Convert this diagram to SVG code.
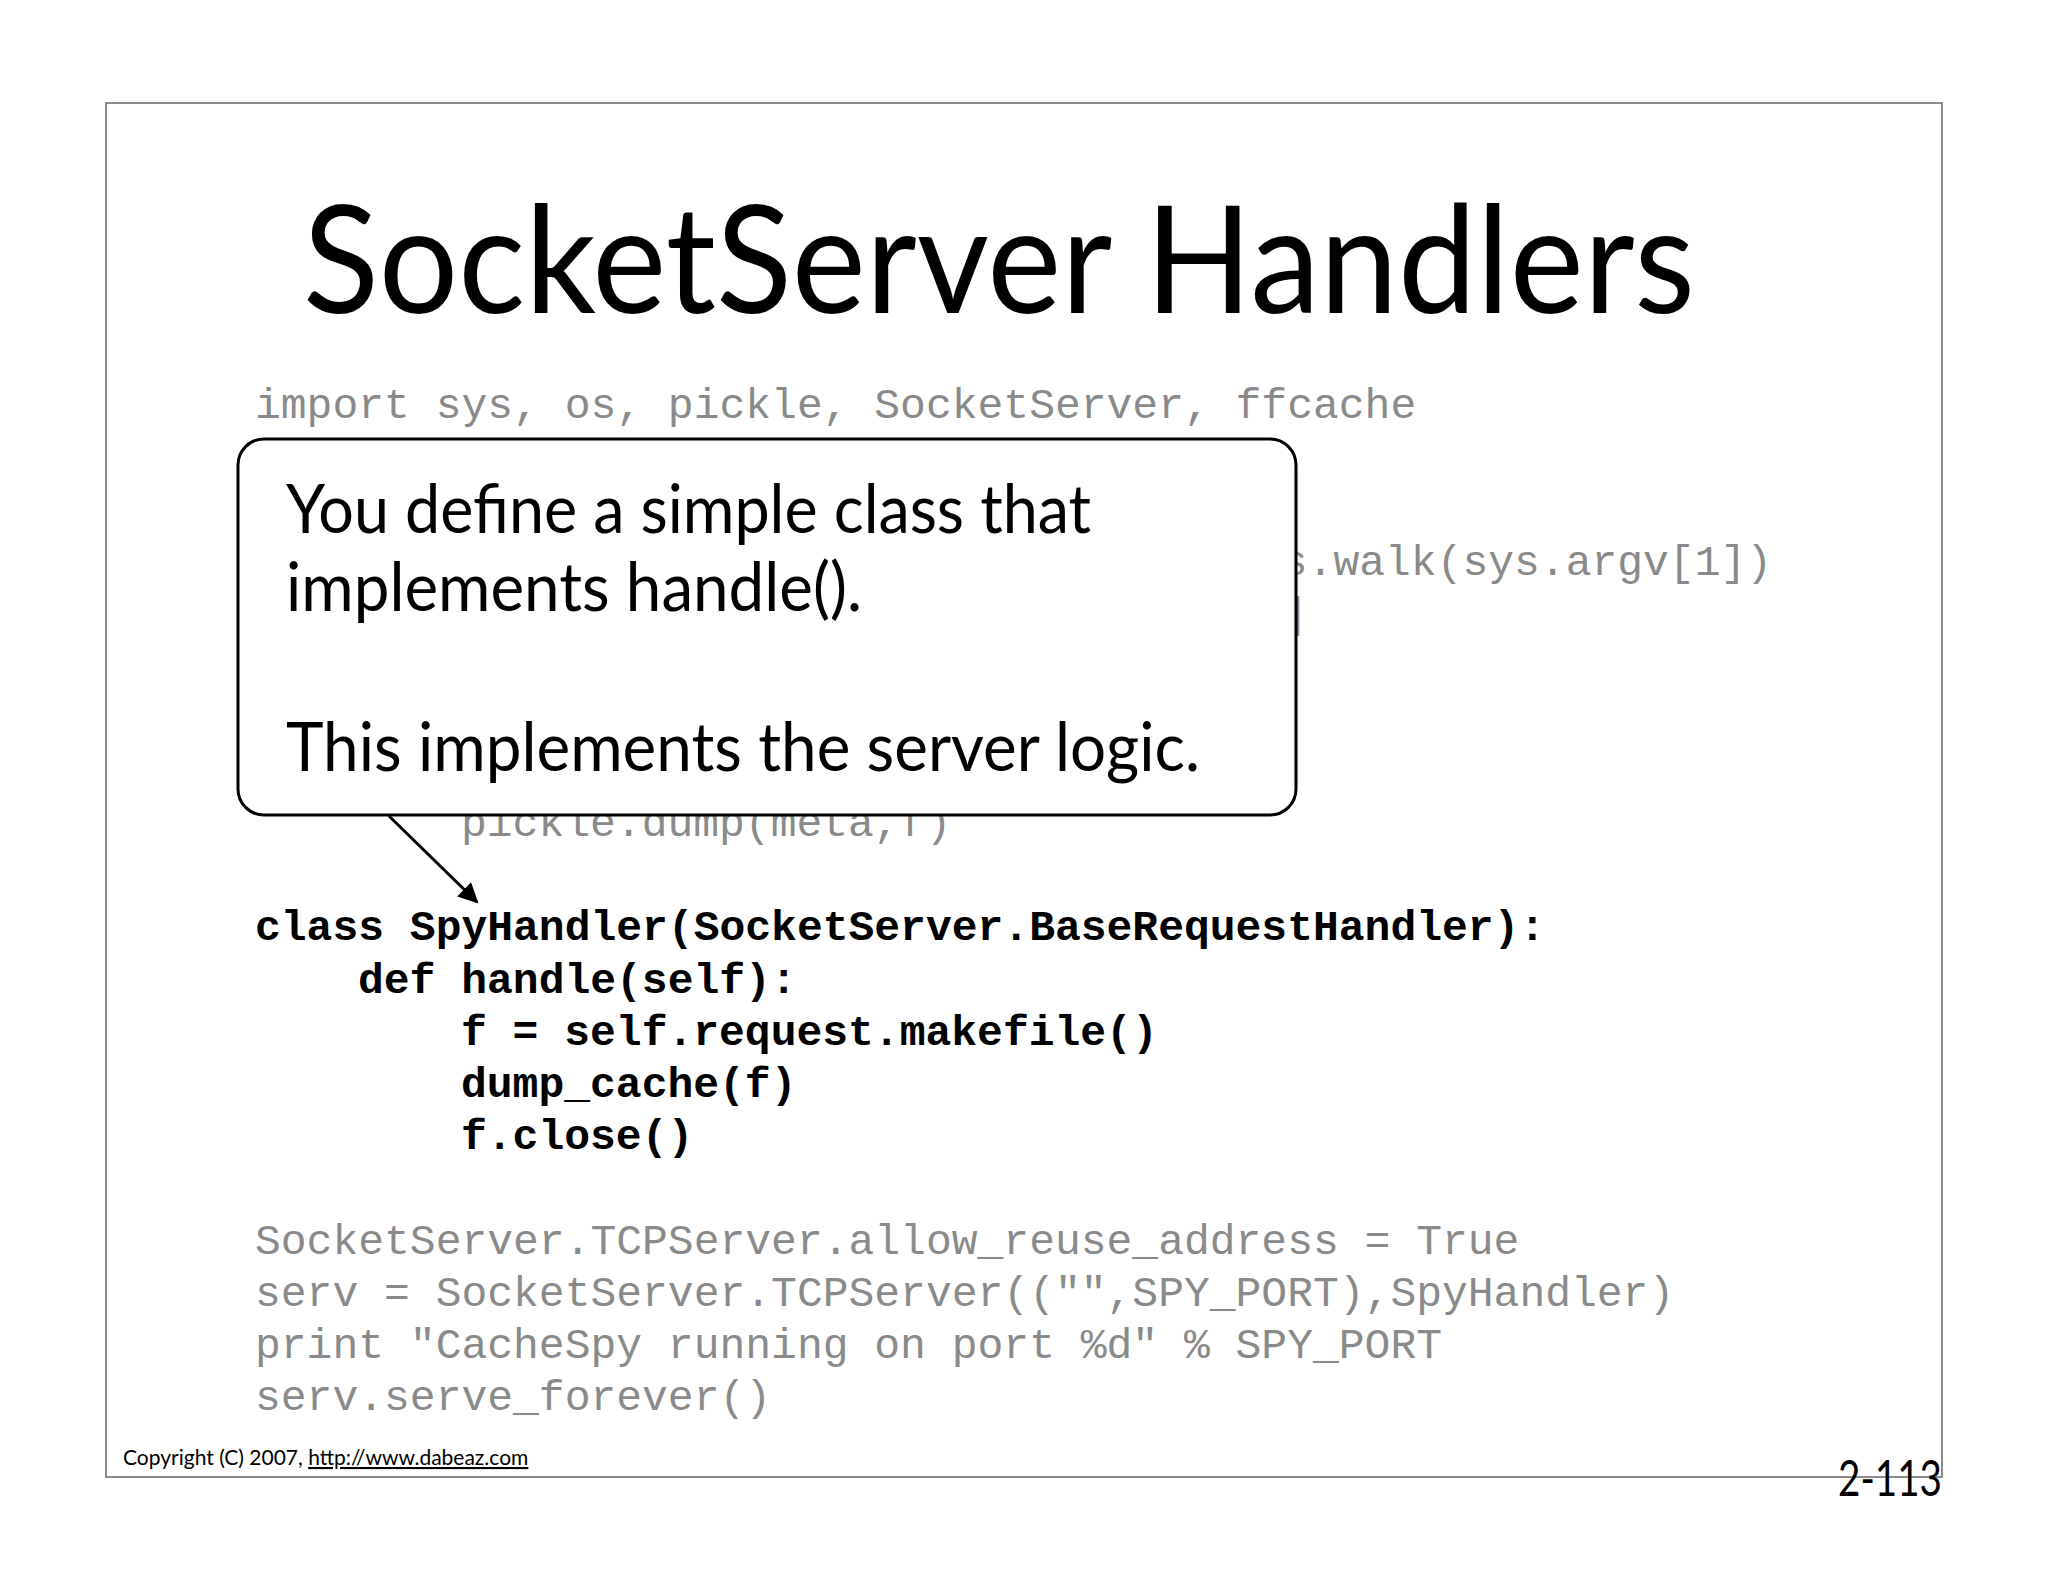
<svg xmlns="http://www.w3.org/2000/svg" width="2048" height="1582" viewBox="0 0 2048 1582">
<style>
.code{font-family:"Liberation Mono",monospace;font-size:43px;fill:#8a8a8a}
.bold{font-weight:bold;fill:#000}
.sans{font-family:"Lato","Open Sans",sans-serif;fill:#000}
</style>
<defs><marker id="ah" markerWidth="10" markerHeight="10" refX="9" refY="5" orient="auto" markerUnits="userSpaceOnUse" viewBox="0 0 10 10"><path d="M0,0 L10,5 L0,10 z" fill="#000"/></marker>
<marker id="ah2" viewBox="0 0 10 10" refX="9" refY="5" markerWidth="24" markerHeight="20" orient="auto" markerUnits="userSpaceOnUse"><path d="M0,0 L10,5 L0,10 z" fill="#000"/></marker></defs>
<rect width="2048" height="1582" fill="#fff"/>
<rect x="106" y="103" width="1836" height="1374" fill="none" stroke="#666" stroke-width="1.5"/>
<text class="sans" x="303" y="313" font-size="150" textLength="1392" lengthAdjust="spacingAndGlyphs">SocketServer Handlers</text>
<g id="code">
<text class="code" x="255" y="418">import sys, os, pickle, SocketServer, ffcache</text>
<text class="code" x="1256" y="575">os.walk(sys.argv[1])</text>
<text class="code" x="1282" y="627">]</text>
<text class="code" x="461" y="836">pickle.dump(meta,f)</text>
<text class="code bold" x="255" y="940">class SpyHandler(SocketServer.BaseRequestHandler):</text>
<text class="code bold" x="358" y="993">def handle(self):</text>
<text class="code bold" x="461" y="1045">f = self.request.makefile()</text>
<text class="code bold" x="461" y="1097">dump_cache(f)</text>
<text class="code bold" x="461" y="1149">f.close()</text>
<text class="code" x="255" y="1254">SocketServer.TCPServer.allow_reuse_address = True</text>
<text class="code" x="255" y="1306">serv = SocketServer.TCPServer(("",SPY_PORT),SpyHandler)</text>
<text class="code" x="255" y="1358">print "CacheSpy running on port %d" % SPY_PORT</text>
<text class="code" x="255" y="1410">serv.serve_forever()</text>
</g>
<g id="callout">
<rect x="238" y="439" width="1058" height="376" rx="26" fill="#fff" stroke="#000" stroke-width="3"/>
<text class="sans" x="286" y="533" font-size="68" textLength="805" lengthAdjust="spacingAndGlyphs">You define a simple class that</text>
<text class="sans" x="286" y="611" font-size="68" textLength="576" lengthAdjust="spacingAndGlyphs">implements handle().</text>
<text class="sans" x="286" y="771" font-size="68" textLength="914" lengthAdjust="spacingAndGlyphs">This implements the server logic.</text>
</g>
<g id="connectors">
<line x1="389" y1="816" x2="477" y2="902" stroke="#000" stroke-width="3" marker-end="url(#ah2)"/>
</g>
<g id="footer">
<text class="sans" x="123" y="1465" font-size="21">Copyright (C) 2007, <tspan text-decoration="underline">http://www.dabeaz.com</tspan></text>
<text class="sans" x="1838" y="1496" font-size="50" textLength="104" lengthAdjust="spacingAndGlyphs">2-113</text>
</g>
</svg>
